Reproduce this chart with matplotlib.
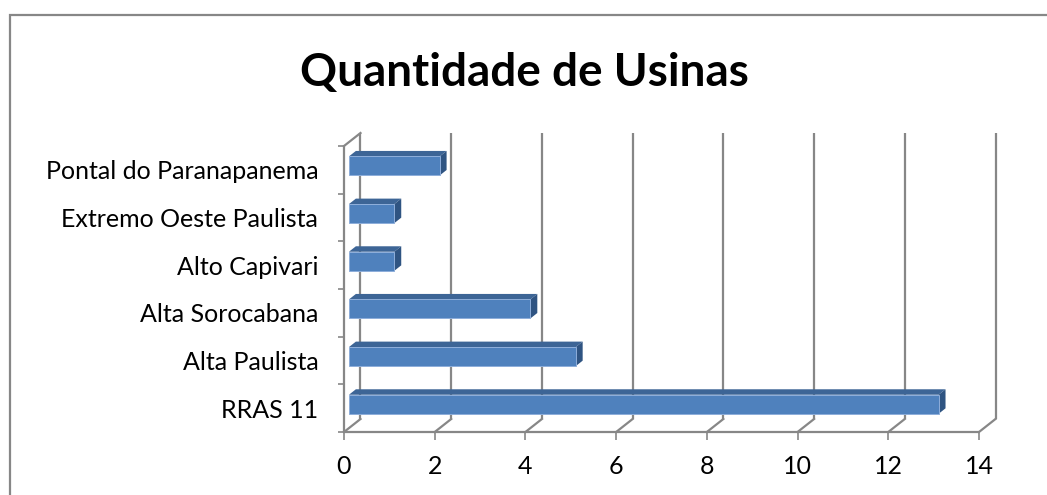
import matplotlib
matplotlib.use("Agg")
import matplotlib.pyplot as plt
from matplotlib.patches import Polygon, Rectangle

categories = ["RRAS 11", "Alta Paulista", "Alta Sorocabana", "Alto Capivari",
              "Extremo Oeste Paulista", "Pontal do Paranapanema"]
values = [13, 5, 4, 1, 1, 2]
x_ticks = [0, 2, 4, 6, 8, 10, 12, 14]
title = "Quantidade de Usinas"

W, H, DPI = 1047, 495, 100
fig = plt.figure(figsize=(W / DPI, H / DPI), dpi=DPI)
plt.rcParams['font.family'] = ['Lato', 'DejaVu Sans']

# chart border
fig.add_artist(Rectangle((10 / W, -0.1), 1.2, (H - 15) / H + 0.1, transform=fig.transFigure,
                         fill=False, edgecolor='#878787', linewidth=1.6))

# front plane of plot area (pixels)
left_px, right_px, top_px, bot_px = 344, 979, 146, 432
ax = fig.add_axes([left_px / W, (H - bot_px) / H, (right_px - left_px) / W, (bot_px - top_px) / H])
ax.set_xlim(0, 14)
ax.set_ylim(0, len(categories))
for s in ax.spines.values():
    s.set_visible(False)
ax.patch.set_visible(False)

xs = (right_px - left_px) / 14.0
ys = (bot_px - top_px) / len(categories)
DX = 16.5 / xs   # full depth offset in data units
DY = 13.0 / ys

grid_c = '#878787'
lw = 1.6
ncat = len(categories)

# back wall gridlines
for xv in x_ticks:
    ax.plot([xv + DX, xv + DX], [DY, ncat + DY], color=grid_c, lw=lw, clip_on=False, zorder=1,
            solid_capstyle='butt')
    # floor diagonals
    ax.plot([xv, xv + DX], [0, DY], color=grid_c, lw=lw, clip_on=False, zorder=1)
# front baseline
ax.plot([0, 14], [0, 0], color=grid_c, lw=lw, clip_on=False, zorder=1, solid_capstyle='butt')
# left wall front edge and top
ax.plot([0, 0], [0, ncat], color=grid_c, lw=lw, clip_on=False, zorder=1, solid_capstyle='butt')
ax.plot([0, DX], [ncat, ncat + DY], color=grid_c, lw=lw, clip_on=False, zorder=1)

# 3D bars
d0, d1 = 0.30, 0.72
bh = 0.40
front_c, top_c, side_c = '#4F81BD', '#3D6596', '#2F5482'
for i, v in enumerate(values):
    yc = i + 0.5
    ox0, oy0 = d0 * DX, d0 * DY
    ox1, oy1 = d1 * DX, d1 * DY
    yb, yt = yc - bh / 2, yc + bh / 2
    # top face
    ax.add_patch(Polygon([(ox0, yt + oy0), (v + ox0, yt + oy0), (v + ox1, yt + oy1), (ox1, yt + oy1)],
                         closed=True, facecolor=top_c, edgecolor='none', clip_on=False, zorder=3))
    # side face
    ax.add_patch(Polygon([(v + ox0, yb + oy0), (v + ox1, yb + oy1), (v + ox1, yt + oy1), (v + ox0, yt + oy0)],
                         closed=True, facecolor=side_c, edgecolor='none', clip_on=False, zorder=3))
    # front face
    ax.add_patch(Rectangle((ox0, yb + oy0), v, bh, facecolor=front_c, edgecolor='#8EAEDA',
                           linewidth=0.7, clip_on=False, zorder=4))

# ticks
ax.set_xticks(x_ticks)
ax.set_xticklabels([str(t) for t in x_ticks])
ax.tick_params(axis='x', direction='out', length=5.8, width=1.2, color=grid_c,
               labelsize=18, pad=11, labelcolor='black')
ax.set_yticks(range(ncat + 1))
ax.set_yticklabels([])
ax.tick_params(axis='y', which='major', direction='out', length=4.3, width=1.2, color=grid_c)
ax.set_yticks([i + 0.5 for i in range(ncat)], minor=True)
ax.set_yticklabels(categories, minor=True)
ax.tick_params(axis='y', which='minor', length=0, labelsize=18, pad=18.5, labelcolor='black')

fig.text(524 / W, 1 - 73 / H, title, ha='center', va='center', fontsize=33, fontweight='bold')

fig.savefig("out.png", dpi=DPI)
